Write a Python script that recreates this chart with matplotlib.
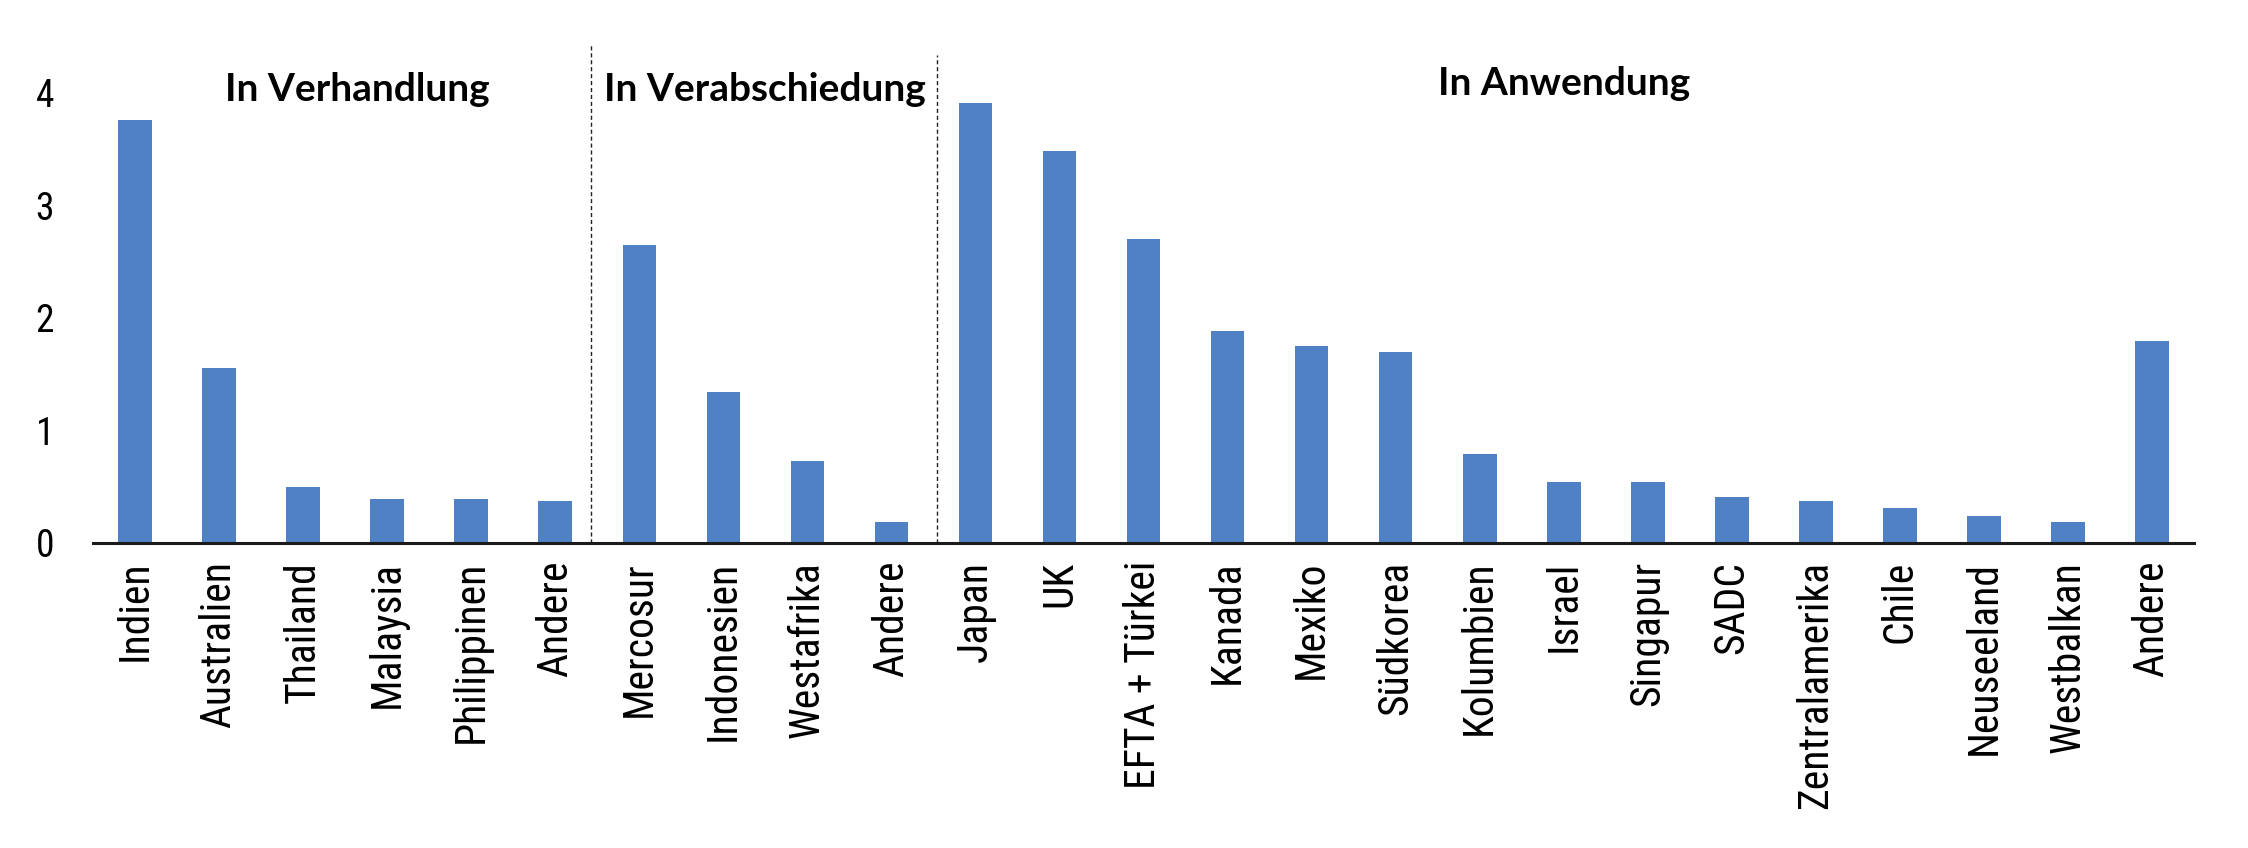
import matplotlib
matplotlib.use("Agg")
import matplotlib.pyplot as plt
import numpy as np

# values
categories = ["Indien", "Australien", "Thailand", "Malaysia", "Philippinen", "Andere",
              "Mercosur", "Indonesien", "Westafrika", "Andere",
              "Japan", "UK", "EFTA + Türkei", "Kanada", "Mexiko", "Südkorea", "Kolumbien",
              "Israel", "Singapur", "SADC", "Zentralamerika", "Chile", "Neuseeland",
              "Westbalkan", "Andere"]
values = [3.76, 1.55, 0.50, 0.39, 0.39, 0.37,
          2.65, 1.34, 0.73, 0.18,
          3.91, 3.48, 2.70, 1.88, 1.75, 1.70, 0.79,
          0.54, 0.54, 0.41, 0.37, 0.31, 0.24,
          0.18, 1.79]
groups = ["In Verhandlung", "In Verabschiedung", "In Anwendung"]

label_font = ["Roboto Condensed", "Liberation Sans Narrow", "Roboto", "DejaVu Sans"]
head_font = ["Lato", "Open Sans", "DejaVu Sans"]

fig = plt.figure(figsize=(22.48, 8.48), dpi=100)
ax = fig.add_axes([0.0414, 0.36, 0.9346, 0.59])

x = np.arange(len(categories))
ax.bar(x, values, width=0.4, color="#4F81C4", zorder=2)

ax.set_xlim(-0.5, len(categories) - 0.5)
ax.set_ylim(0, 4.45)
ax.set_yticks([0, 1, 2, 3, 4])
ax.set_xticks(x)
ax.set_xticklabels(categories, rotation=90, fontsize=30, family=label_font)
for lab in ax.get_yticklabels():
    lab.set_fontsize(27)
    lab.set_family(label_font)
ax.tick_params(axis="x", length=0, pad=13)
ax.tick_params(axis="y", length=0, pad=28)

for side in ["top", "right", "left"]:
    ax.spines[side].set_visible(False)
ax.spines["bottom"].set_linewidth(2.2)
ax.spines["bottom"].set_color("#1a1a1a")

# group separators
ax.plot([5.42, 5.42], [0, 4.43], ls=(0, (3, 2)), color="#222222", lw=1.0, zorder=1, clip_on=False)
ax.plot([9.54, 9.54], [0, 4.34], ls=(0, (3, 2)), color="#222222", lw=1.0, zorder=1, clip_on=False)

# group headings
ax.text(2.64, 4.03, groups[0], ha="center", va="center", fontsize=28, fontweight="bold", family=head_font)
ax.text(7.49, 4.03, groups[1], ha="center", va="center", fontsize=28, fontweight="bold", family=head_font)
ax.text(17.0, 4.08, groups[2], ha="center", va="center", fontsize=28, fontweight="bold", family=head_font)

fig.savefig("out.png", dpi=100)
